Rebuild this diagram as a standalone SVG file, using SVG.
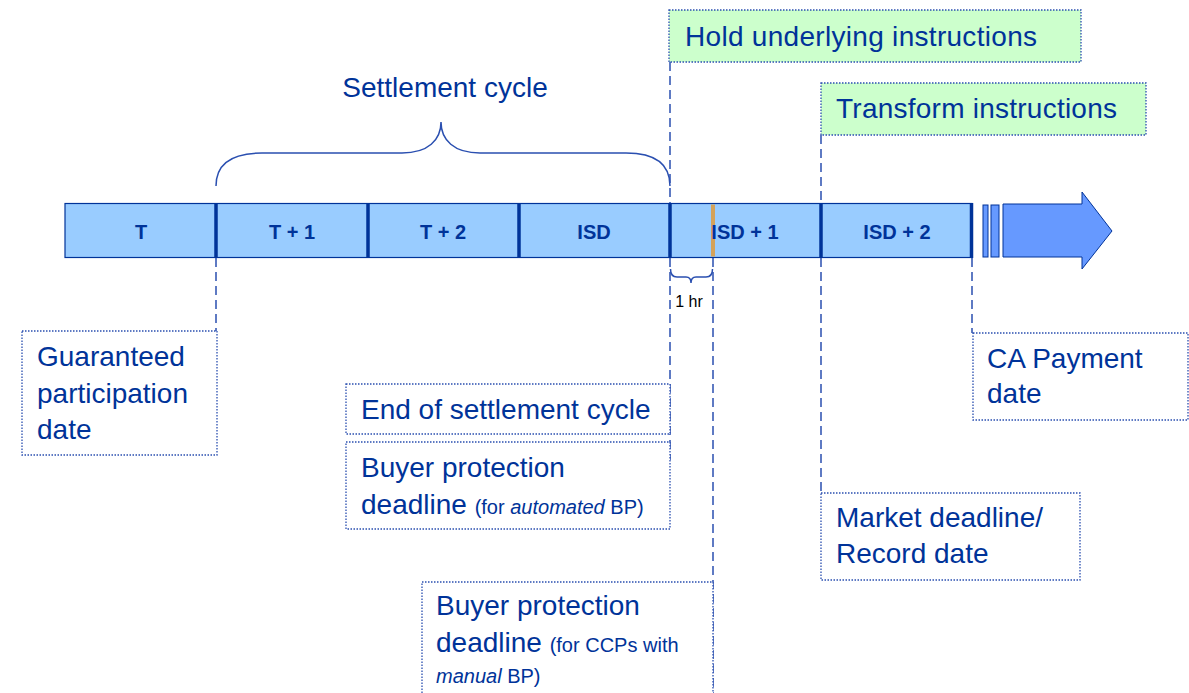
<svg xmlns="http://www.w3.org/2000/svg" width="1189" height="693" viewBox="0 0 1189 693">
<style>
.t{font-family:"Liberation Sans",Arial,sans-serif;fill:#003399;font-size:28px}
.s{font-size:20px}
.b{font-family:"Liberation Sans",Arial,sans-serif;fill:#003399;font-size:20px;font-weight:bold;text-anchor:middle}
.box{fill:#FFFFFF;stroke:#2A4FB0;stroke-width:1.3;stroke-dasharray:1.5 1.5}
.gbox{fill:#CCFFCC;stroke:#2A4FB0;stroke-width:1.3;stroke-dasharray:1.5 1.5}
.dash{stroke:#2A4FB0;stroke-width:1.5;stroke-dasharray:9 5;fill:none}
.div{stroke:#003399;stroke-width:3.5}
.brace{fill:none;stroke:#2A4FB0;stroke-width:1.5}
</style>
<rect width="1189" height="693" fill="#FFFFFF"/>
<g id="connectors">
<line class="dash" x1="670" y1="62" x2="670" y2="203"/>
<line class="dash" x1="670" y1="258" x2="670" y2="460"/>
<line class="dash" x1="821" y1="135" x2="821" y2="203"/>
<line class="dash" x1="821" y1="258" x2="821" y2="493"/>
<line class="dash" x1="216" y1="258" x2="216" y2="331"/>
<line class="dash" x1="713" y1="258" x2="713" y2="693"/>
<line class="dash" x1="972" y1="258" x2="972" y2="333"/>
</g>
<g id="timeline">
<rect x="65" y="203.5" width="907" height="54" fill="#99CCFF" stroke="#003399" stroke-width="1.2"/>
<line class="div" x1="216" y1="203" x2="216" y2="258"/>
<line class="div" x1="368" y1="203" x2="368" y2="258"/>
<line class="div" x1="519" y1="203" x2="519" y2="258"/>
<line class="div" x1="670" y1="203" x2="670" y2="258"/>
<line class="div" x1="821" y1="203" x2="821" y2="258"/>
<line class="div" x1="971.5" y1="203" x2="971.5" y2="258"/>
<line x1="713" y1="204.5" x2="713" y2="256.5" stroke="#D4A25A" stroke-width="4"/>
<text class="b" x="141" y="239">T</text>
<text class="b" x="292" y="239">T + 1</text>
<text class="b" x="443" y="239">T + 2</text>
<text class="b" x="594" y="239">ISD</text>
<text class="b" x="745" y="239">ISD + 1</text>
<text class="b" x="897" y="239">ISD + 2</text>
<rect x="983" y="205" width="5" height="52" fill="#6699FF" stroke="#003399" stroke-width="1"/>
<rect x="991" y="205" width="8" height="52" fill="#6699FF" stroke="#003399" stroke-width="1"/>
<path d="M1003,204 L1082,204 L1082,192 L1112,231 L1082,269 L1082,257 L1003,257 Z" fill="#6699FF" stroke="#003399" stroke-width="1"/>
</g>
<g id="settlement-cycle">
<path class="brace" d="M216,186 C216,165 230,153 262,153 L402,153 C428,153 441,140 441,122 C441,140 454,153 480,153 L626,153 C656,153 670,165 670,186"/>
<text class="t" x="445" y="97" text-anchor="middle">Settlement cycle</text>
</g>
<g id="one-hour">
<path class="brace" d="M670.5,269 Q670.5,277 677,277 L686,277 Q691,277 691,283 Q691,277 696,277 L706,277 Q712.5,277 712.5,269"/>
<text x="689" y="307" font-family="Liberation Sans, Arial, sans-serif" font-size="16" fill="#000000" text-anchor="middle">1 hr</text>
</g>
<g id="hold">
<rect class="gbox" x="669" y="10" width="412" height="52"/>
<text class="t" x="685" y="46" textLength="352" lengthAdjust="spacing">Hold underlying instructions</text>
</g>
<g id="transform">
<rect class="gbox" x="821" y="83" width="325" height="52"/>
<text class="t" x="836" y="118" textLength="281" lengthAdjust="spacing">Transform instructions</text>
</g>
<g id="guaranteed">
<rect class="box" x="22" y="331" width="195" height="124"/>
<text class="t" x="37" y="366">Guaranteed</text>
<text class="t" x="37" y="403">participation</text>
<text class="t" x="37" y="439">date</text>
</g>
<g id="end-settlement">
<rect class="box" x="346" y="384" width="324" height="50"/>
<text class="t" x="361" y="419">End of settlement cycle</text>
</g>
<g id="bp-automated">
<rect class="box" x="346" y="442" width="324" height="87"/>
<text class="t" x="361" y="477">Buyer protection</text>
<text class="t" x="361" y="514">deadline <tspan class="s">(for <tspan font-style="italic">automated</tspan> BP)</tspan></text>
</g>
<g id="bp-manual">
<rect class="box" x="422" y="582" width="291" height="120"/>
<text class="t" x="436" y="615">Buyer protection</text>
<text class="t" x="436" y="652">deadline <tspan class="s">(for CCPs with</tspan></text>
<text class="t s" x="436" y="683"><tspan font-style="italic">manual</tspan> BP)</text>
</g>
<g id="market-deadline">
<rect class="box" x="821" y="493" width="259" height="87"/>
<text class="t" x="836" y="527">Market deadline/</text>
<text class="t" x="836" y="563">Record date</text>
</g>
<g id="ca-payment">
<rect class="box" x="973" y="333" width="215" height="87"/>
<text class="t" x="987" y="368">CA Payment</text>
<text class="t" x="987" y="403">date</text>
</g>
</svg>
